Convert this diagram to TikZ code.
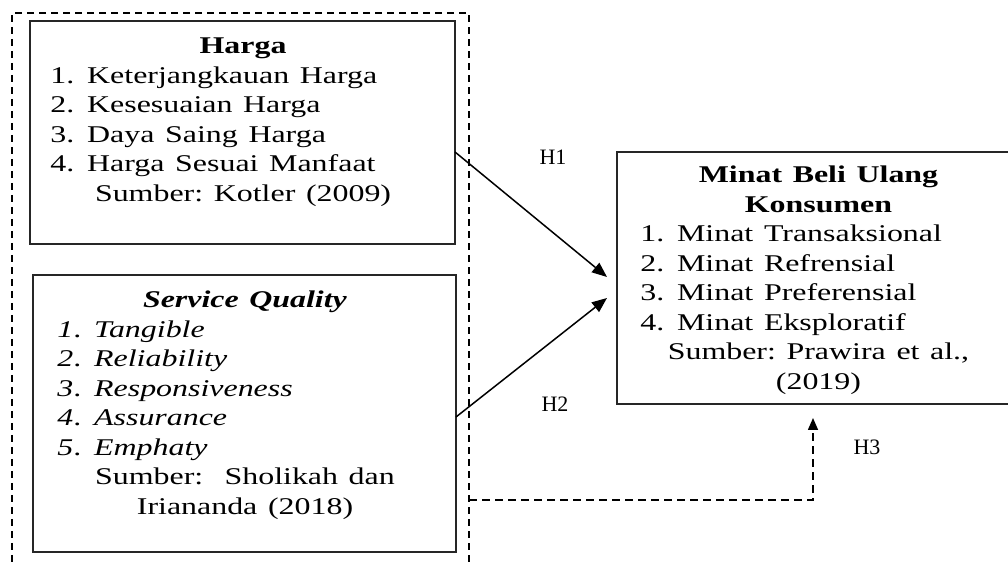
\documentclass[tikz,border=0pt]{standalone}
\usepackage{fontspec}
\setmainfont{Liberation Serif}
\usetikzlibrary{arrows.meta,positioning,calc}
\frenchspacing

\newcommand{\itm}[3][8pt]{\hspace*{#1}\makebox[13.8pt][l]{#2.}#3}
\newcommand{\ctr}[1]{\makebox[\linewidth]{#1}}

\begin{document}
\begin{tikzpicture}[
  x=0.5pt,y=-0.5pt,
  frame/.style={draw=black!85,line width=0.8pt,inner sep=0pt,outer sep=0pt,anchor=north west},
  txt/.style={anchor=base west,inner sep=0pt,align=left,transform shape,xscale=1.33,font=\fontsize{12}{14.75}\selectfont},
  grp/.style={draw,dash pattern=on 3.5pt off 2.5pt,line width=0.8pt,inner sep=0pt,outer sep=0pt,anchor=north west},
  arr/.style={-{Triangle[length=7.5pt,width=6pt]},line width=0.75pt},
  darr/.style={-{Triangle[length=6pt,width=5pt]},dash pattern=on 4pt off 2.5pt,line width=0.75pt},
  hlbl/.style={anchor=base,inner sep=0pt,font=\fontsize{11}{13}\selectfont},
]
  \useasboundingbox (0,0) rectangle (1008,565);
  \coordinate (pageR) at (1008,0);

  % dashed group round both independent variables
  \node[grp,minimum width=228.5pt,minimum height=286pt] (grp) at (12,13) {};

  % frames (the right one runs off the page, so only three sides)
  \node[frame,minimum width=212.5pt,minimum height=111.5pt] (harga) at (30,21) {};
  \node[frame,minimum width=211.5pt,minimum height=138.5pt] (sq) at (33,275) {};
  \node[frame,draw=none,minimum width=201pt,minimum height=126pt] (minat) at (617,152) {};
  \draw[draw=black!85,line width=0.8pt] (minat.north west -| pageR) -- (minat.north west)
    -- (minat.south west) -- (minat.south west -| pageR);

  % texts
  \node[txt,text width=159.8pt] (hargaTxt) at ($(harga.north west)+(0,33)$) {%
    \ctr{\textbf{Harga}}\\
    \itm[7.5pt]{1}{Keterjangkauan Harga}\\
    \itm[7.5pt]{2}{Kesesuaian Harga}\\
    \itm[7.5pt]{3}{Daya Saing Harga}\\
    \itm[7.5pt]{4}{Harga Sesuai Manfaat}\\
    \ctr{Sumber: Kotler (2009)}};
  \node[txt,text width=159pt] (sqTxt) at ($(sq.north west)+(0,33)$) {%
    \ctr{\textbf{\textit{Service Quality}}}\\
    \itm[9pt]{\textit{1}}{\textit{Tangible}}\\
    \itm[9pt]{\textit{2}}{\textit{Reliability}}\\
    \itm[9pt]{\textit{3}}{\textit{Responsiveness}}\\
    \itm[9pt]{\textit{4}}{\textit{Assurance}}\\
    \itm[9pt]{\textit{5}}{\textit{Emphaty}}\\
    \ctr{Sumber:\ \ Sholikah dan}\\
    \ctr{Iriananda (2018)}};
  \node[txt,text width=151.1pt] (minatTxt) at ($(minat.north west)+(0,31)$) {%
    \ctr{\textbf{Minat Beli Ulang}}\\
    \ctr{\textbf{Konsumen}}\\
    \itm[8.6pt]{1}{Minat Transaksional}\\
    \itm[8.6pt]{2}{Minat Refrensial}\\
    \itm[8.6pt]{3}{Minat Preferensial}\\
    \itm[8.6pt]{4}{Minat Eksploratif}\\
    \ctr{Sumber: Prawira et al.,}\\
    \ctr{(2019)}};

  % hypotheses
  \draw[arr] ($(harga.east)+(0,19.5)$) -- ($(minat.west)+(-10,-1)$);
  \draw[arr] ($(sq.east)+(0,3.5)$) -- ($(minat.west)+(-10,20)$);
  \coordinate (h3turn) at ($(minat.south west)+(196,96)$);
  \draw[darr] (grp.east |- h3turn) -- (h3turn) -- ($(minat.south west)+(196,14)$);

  \node[hlbl] (h1) at (553,165) {H1};
  \node[hlbl] (h2) at (555,412) {H2};
  \node[hlbl] (h3) at (867,455) {H3};
\end{tikzpicture}
\end{document}
